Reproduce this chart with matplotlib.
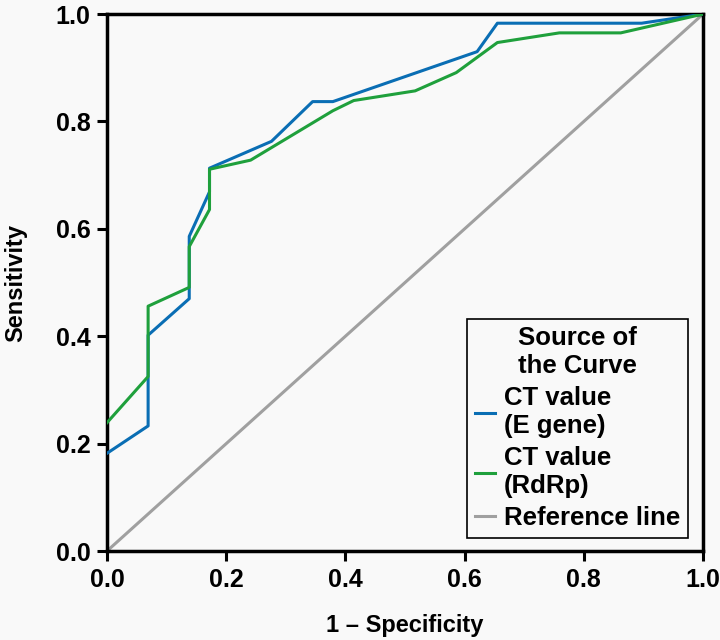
import matplotlib
matplotlib.use("Agg")
import matplotlib.pyplot as plt

plt.rcParams['font.family'] = ['Liberation Sans', 'DejaVu Sans']
plt.rcParams['font.weight'] = 'bold'

# ROC points
e_gene_fpr = [0.0, 0.069, 0.069, 0.138, 0.138, 0.172, 0.172, 0.276, 0.345, 0.379, 0.621, 0.655, 0.897, 1.0]
e_gene_tpr = [0.182, 0.233, 0.402, 0.470, 0.586, 0.669, 0.713, 0.763, 0.837, 0.837, 0.930, 0.983, 0.983, 1.0]

rdrp_fpr = [0.0, 0.069, 0.069, 0.138, 0.138, 0.172, 0.172, 0.241, 0.379, 0.414, 0.517, 0.586, 0.655, 0.759, 0.862, 1.0]
rdrp_tpr = [0.239, 0.325, 0.456, 0.491, 0.567, 0.636, 0.711, 0.728, 0.820, 0.839, 0.857, 0.891, 0.947, 0.965, 0.965, 1.0]

ref_x = [0.0, 1.0]
ref_y = [0.0, 1.0]

ticks = [0.0, 0.2, 0.4, 0.6, 0.8, 1.0]
tick_labels = ["0.0", "0.2", "0.4", "0.6", "0.8", "1.0"]

bg = "#f9f9f9"
fig = plt.figure(figsize=(7.2, 6.4), dpi=100, facecolor=bg)
ax = fig.add_axes([0.1486, 0.139, 0.8278, 0.839])
ax.set_facecolor(bg)

ax.plot(ref_x, ref_y, color="#a0a0a0", linewidth=2.2, label="Reference line", zorder=2)
ax.plot(e_gene_fpr, e_gene_tpr, color="#0a6eb4", linewidth=2.2, label="CT value\n(E gene)", zorder=3)
ax.plot(rdrp_fpr, rdrp_tpr, color="#1fa03c", linewidth=2.2, label="CT value\n(RdRp)", zorder=3)

ax.set_xlim(0, 1)
ax.set_ylim(0, 1)
ax.set_xticks(ticks)
ax.set_xticklabels(tick_labels)
ax.set_yticks(ticks)
ax.set_yticklabels(tick_labels)
ax.tick_params(axis='both', labelsize=18, width=2.2, length=7, direction='out')
ax.tick_params(axis='x', pad=5)
ax.tick_params(axis='y', pad=5)
for s in ax.spines.values():
    s.set_linewidth(2.5)
    s.set_color("black")

ax.set_xlabel("1 – Specificity", fontsize=17, fontweight='bold', labelpad=16)
ax.set_ylabel("Sensitivity", fontsize=17, fontweight='bold', labelpad=20)

handles, labels = ax.get_legend_handles_labels()
order = [1, 2, 0]
leg = ax.legend([handles[i] for i in order], [labels[i] for i in order],
                title="Source of\nthe Curve", loc="lower right",
                bbox_to_anchor=(0.975, 0.024), fontsize=18.5, title_fontsize=18.5,
                handlelength=0.8, handletextpad=0.35, borderpad=0.3,
                labelspacing=0.32, borderaxespad=0, fancybox=False, framealpha=1,
                edgecolor="black", facecolor=bg)
leg.get_frame().set_linewidth(1.2)
leg.get_title().set_fontweight('bold')
leg.get_title().set_multialignment('center')

fig.savefig("out.png", dpi=100, facecolor=bg)
